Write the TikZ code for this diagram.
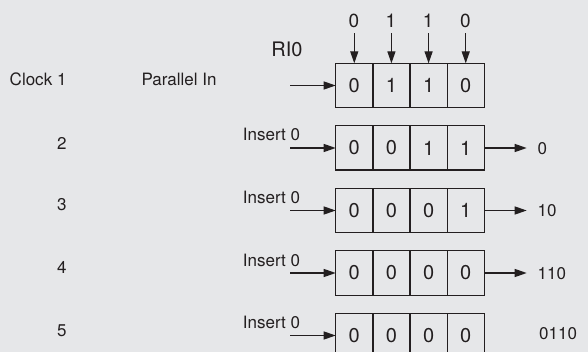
\documentclass[tikz,border=0pt]{standalone}
\usepackage{fontspec}
\setmainfont{TeX Gyre Heros}
\usetikzlibrary{arrows.meta,calc}
\definecolor{bg}{HTML}{E6E7E9}
\definecolor{ink}{HTML}{231F20}
\begin{document}
\begin{tikzpicture}[x=1pt,y=-1pt,
  cell/.style={draw=ink, line width=1.3pt, minimum width=37.15pt, minimum height=44.3pt,
    inner sep=0pt, outer sep=0pt, font=\fontsize{20}{24}\selectfont, text=ink},
  lbl/.style={inner sep=0pt, font=\fontsize{17}{20}\selectfont, text=ink},
  big/.style={inner sep=0pt, font=\fontsize{20}{24}\selectfont, text=ink},
  arr/.style={draw=ink, line width=1.3pt, -{Triangle[length=12pt,width=8pt]}}]
\fill[bg] (0,0) rectangle (588,352);
\clip (0,0) rectangle (588,352);

% left labels
\node[lbl, anchor=base east] (clk1) at (66.7,86) {Clock 1};
\node[lbl, anchor=base] (pin) at (179,86) {Parallel In};
\node[lbl, anchor=base east] (clk2) at (66.7,149.5) {2};
\node[lbl, anchor=base east] (clk3) at (66.7,211) {3};
\node[lbl, anchor=base east] (clk4) at (66.7,273.5) {4};
\node[lbl, anchor=base east] (clk5) at (66.7,336) {5};

% register label and parallel inputs
\node[big, anchor=base] (ri0) at (287,57) {RI0};
\node[big, anchor=base, font=\fontsize{19}{23}\selectfont] (p1) at (353.8,27.5) {0};
\node[big, anchor=base, font=\fontsize{19}{23}\selectfont] (p2) at (391.0,27.5) {1};
\node[big, anchor=base, font=\fontsize{19}{23}\selectfont] (p3) at (428.1,27.5) {1};
\node[big, anchor=base, font=\fontsize{19}{23}\selectfont] (p4) at (465.3,27.5) {0};

% registers
\foreach \r/\y/\a/\b/\c/\d in {1/85.5/0/1/1/0, 2/148/0/0/1/1, 3/210.5/0/0/0/1, 4/273/0/0/0/0, 5/335.5/0/0/0/0}{
  \node[cell] (r\r c1) at (354.28,\y) {\a};
  \node[cell] (r\r c2) at (391.43,\y) {\b};
  \node[cell] (r\r c3) at (428.58,\y) {\c};
  \node[cell] (r\r c4) at (465.73,\y) {\d};
  \coordinate (in\r) at (290,\y);
  \draw[arr] (in\r) -- (r\r c1.west);
}

% parallel-in arrows
\foreach \i in {1,...,4}{
  \coordinate (pt\i) at ($(r1c\i.north)+(0,-30.3)$);
}
\draw[arr] (pt1) -- (r1c1.north);
\draw[arr] (pt2) -- (r1c2.north);
\draw[arr] (pt3) -- (r1c3.north);
\draw[arr] (pt4) -- (r1c4.north);

% insert labels
\node[lbl, anchor=base west] (ins2) at (242.7,141) {Insert 0};
\node[lbl, anchor=base west] (ins3) at (242.7,203.5) {Insert 0};
\node[lbl, anchor=base west] (ins4) at (242.7,266) {Insert 0};
\node[lbl, anchor=base west] (ins5) at (242.7,328.5) {Insert 0};

% outputs
\node[lbl, anchor=base west] (o2) at (537.5,154.3) {0};
\node[lbl, anchor=base west] (o3) at (537.5,216.8) {10};
\node[lbl, anchor=base west] (o4) at (537.5,279.3) {110};
\node[lbl, anchor=base west] (o5) at (539,339.5) {0110};
\foreach \r in {2,3,4}{
  \coordinate (out\r) at ($(r\r c4.east)+(42.4,0)$);
  \draw[arr] (r\r c4.east) -- (out\r);
}
\end{tikzpicture}
\end{document}
